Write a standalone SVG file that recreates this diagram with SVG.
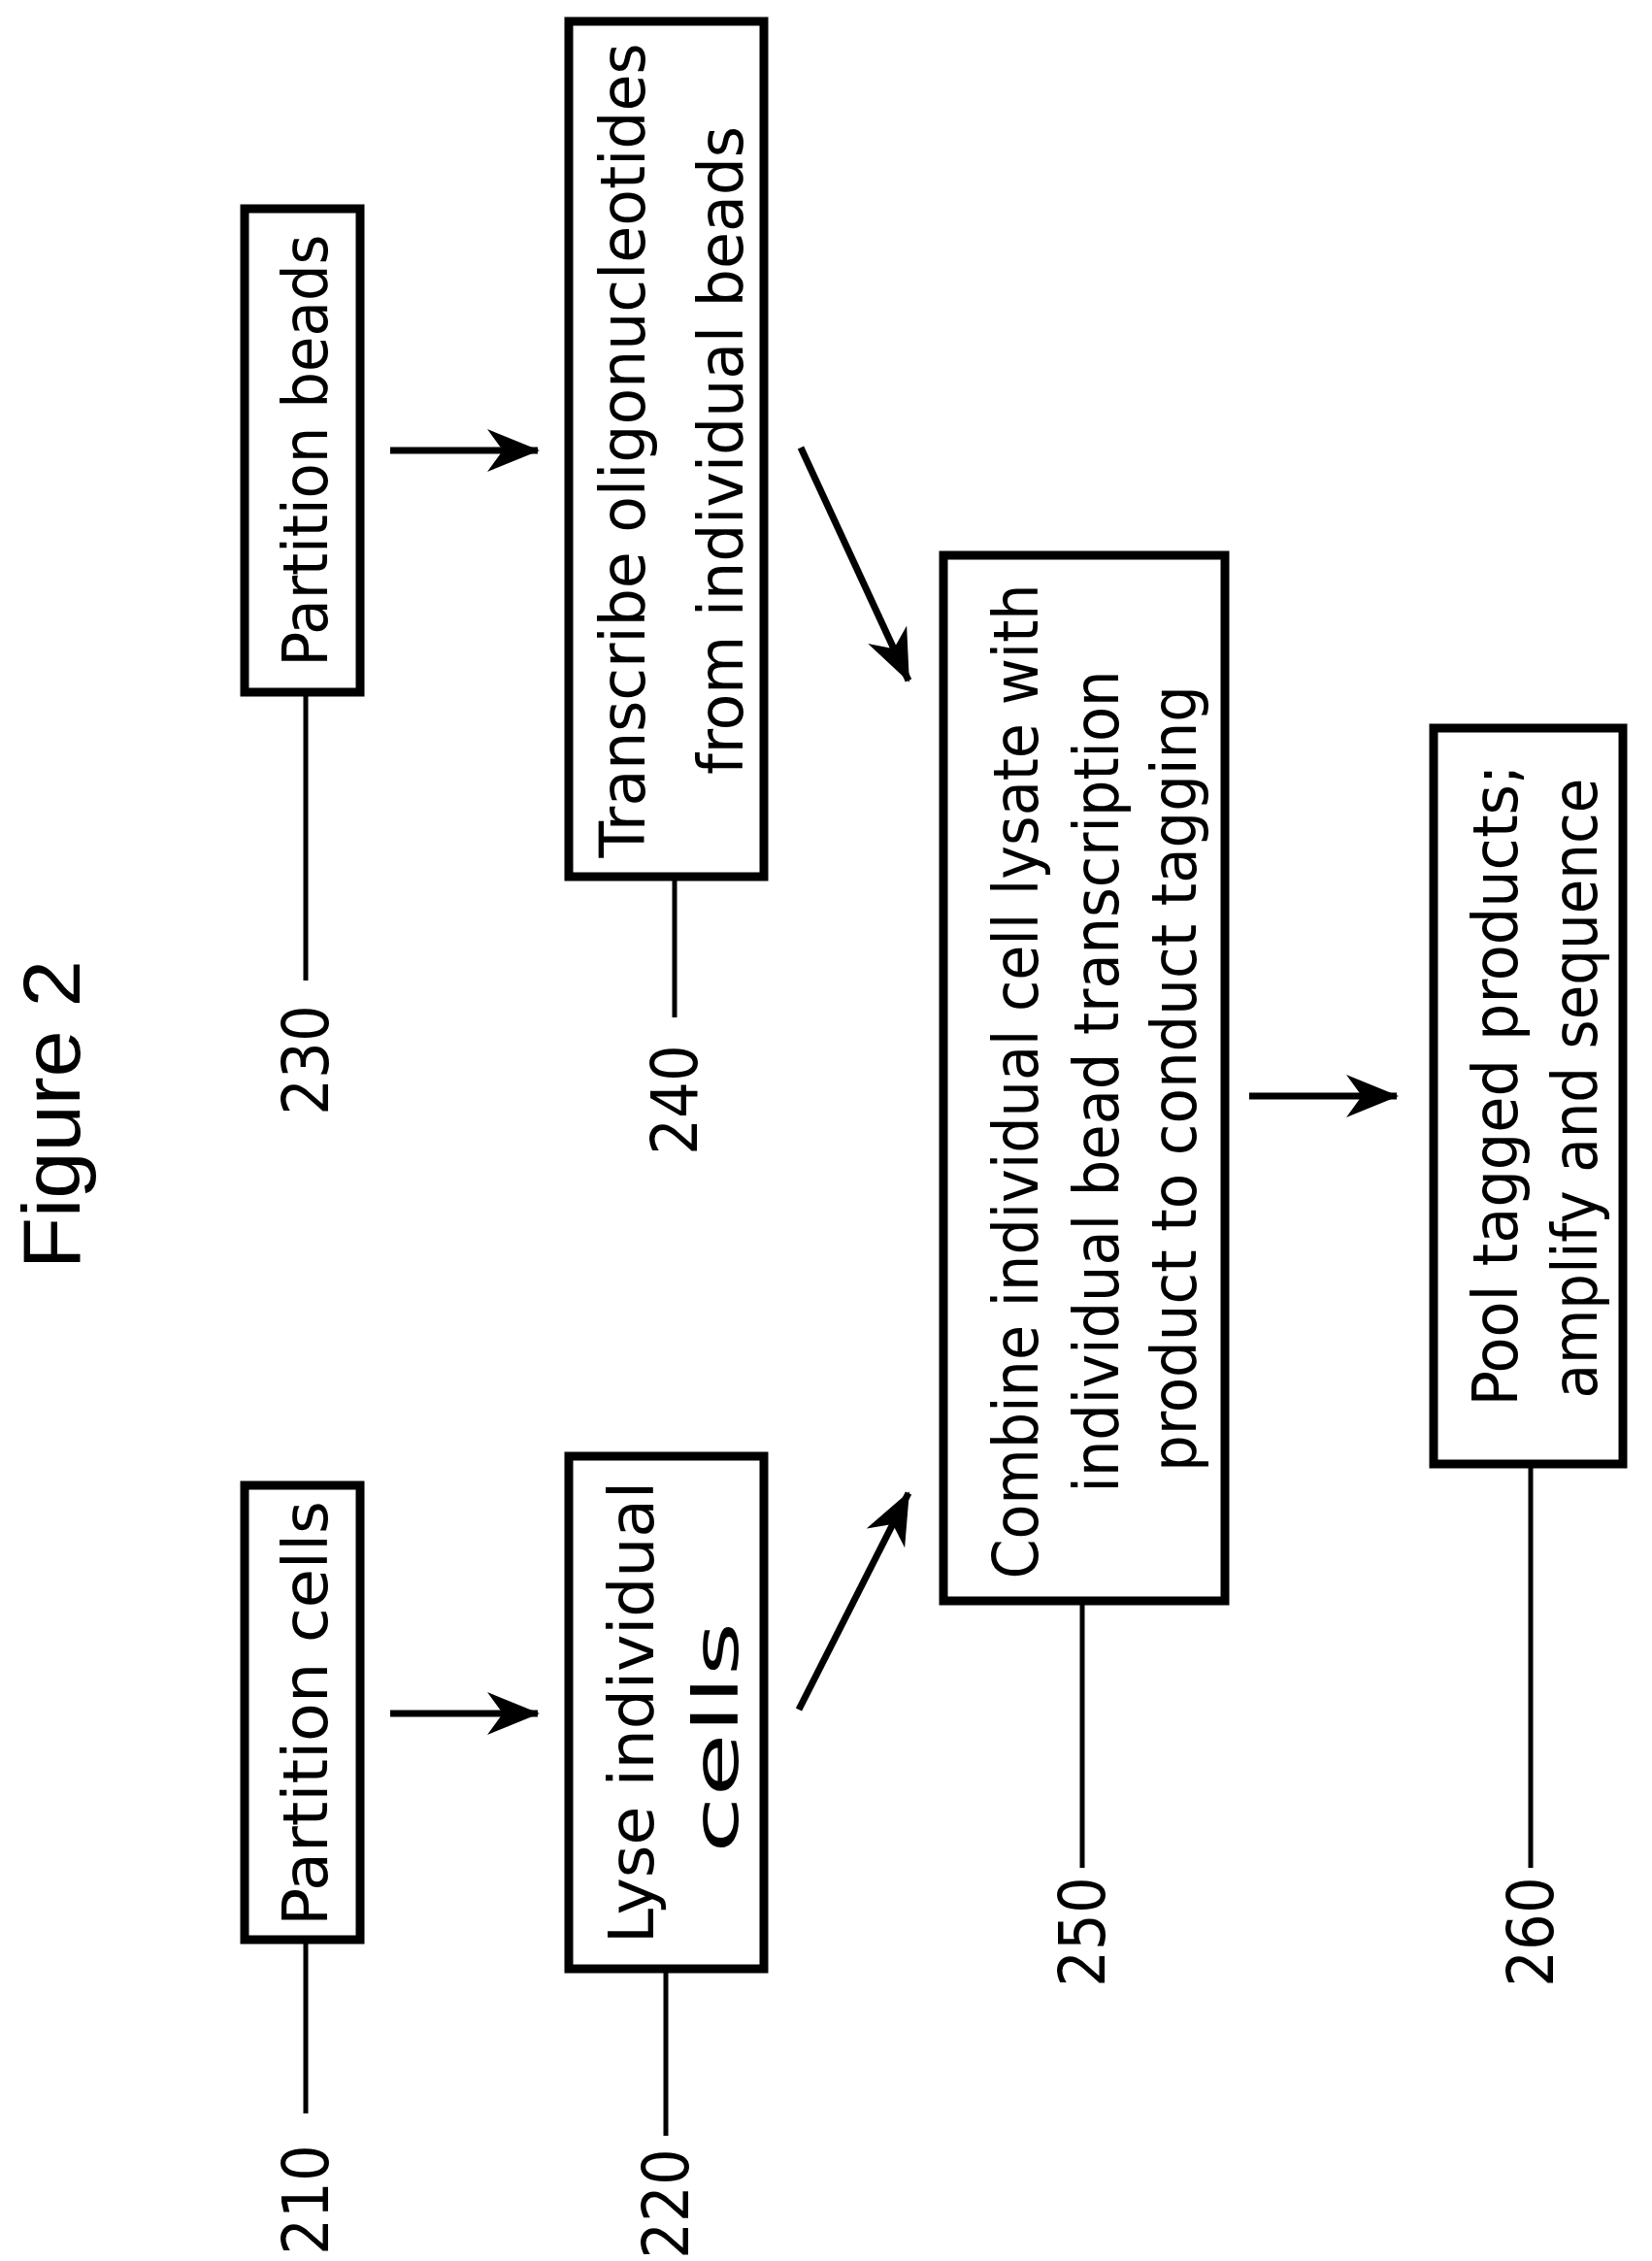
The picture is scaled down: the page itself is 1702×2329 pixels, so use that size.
<svg xmlns="http://www.w3.org/2000/svg" width="1702" height="2329" viewBox="0 0 1702 2329">
<style>
.box{fill:#fff;stroke:#000;stroke-width:9}
.lead{stroke:#000;stroke-width:5;fill:none}
.arr{stroke:#000;stroke-width:7;fill:none;marker-end:url(#ah)}
text{font-family:"DejaVu Sans Condensed","DejaVu Sans",sans-serif;font-size:64px;fill:#000;text-anchor:middle}
.lbl{font-size:66px}
</style>
<defs>
<marker id="ah" markerUnits="userSpaceOnUse" markerWidth="60" markerHeight="50" refX="52" refY="22" orient="auto">
<path d="M0,0 L54,22 L0,44 L16,22 Z" fill="#000"/>
</marker>
</defs>
<rect width="1702" height="2329" fill="#fff"/>
<text transform="translate(82,1148) rotate(-90)" style="font-family:'Liberation Sans',sans-serif;font-size:84px" textLength="318" lengthAdjust="spacingAndGlyphs">Figure  2</text>
<g id="connectors">
<line class="arr" x1="402" y1="464" x2="554" y2="464"/>
<line class="arr" x1="402" y1="1765" x2="554" y2="1765"/>
<line class="arr" x1="825" y1="461" x2="936" y2="701"/>
<line class="arr" x1="823" y1="1761" x2="936" y2="1538"/>
<line class="arr" x1="1287" y1="1129" x2="1439" y2="1129"/>
</g>
<g id="n230">
<rect class="box" x="252" y="215" width="119" height="498"/>
<text transform="translate(337,464) rotate(-90)" textLength="445" lengthAdjust="spacingAndGlyphs">Partition beads</text>
<line class="lead" x1="315" y1="713" x2="315" y2="1010"/>
<text class="lbl" transform="translate(338,1092) rotate(-90)">230</text>
</g>
<g id="n240">
<rect class="box" x="586" y="22" width="201" height="881"/>
<text transform="translate(664,464) rotate(-90)" textLength="839" lengthAdjust="spacingAndGlyphs">Transcribe oligonucleotides</text>
<text transform="translate(765,464) rotate(-90)" textLength="668" lengthAdjust="spacingAndGlyphs">from individual beads</text>
<line class="lead" x1="695" y1="903" x2="695" y2="1048"/>
<text class="lbl" transform="translate(718,1133) rotate(-90)">240</text>
</g>
<g id="n210">
<rect class="box" x="252" y="1530" width="119" height="468"/>
<text transform="translate(337,1765) rotate(-90)" textLength="438" lengthAdjust="spacingAndGlyphs">Partition cells</text>
<line class="lead" x1="315" y1="1998" x2="315" y2="2177"/>
<text class="lbl" transform="translate(338,2266) rotate(-90)">210</text>
</g>
<g id="n220">
<rect class="box" x="586" y="1500" width="201" height="528"/>
<text transform="translate(673,1764) rotate(-90)" textLength="476" lengthAdjust="spacingAndGlyphs">Lyse individual</text>
<text transform="translate(760,1790) rotate(-90)" textLength="238" lengthAdjust="spacingAndGlyphs">cells</text>
<line class="lead" x1="686" y1="2028" x2="686" y2="2200"/>
<text class="lbl" transform="translate(709,2270) rotate(-90)">220</text>
</g>
<g id="n250">
<rect class="box" x="972" y="572" width="290" height="1077"/>
<text transform="translate(1069,1114) rotate(-90)" textLength="1025" lengthAdjust="spacingAndGlyphs">Combine individual cell lysate with</text>
<text transform="translate(1152,1114) rotate(-90)" textLength="847" lengthAdjust="spacingAndGlyphs">individual bead transcription</text>
<text transform="translate(1232,1111) rotate(-90)" textLength="810" lengthAdjust="spacingAndGlyphs">product to conduct tagging</text>
<line class="lead" x1="1115" y1="1649" x2="1115" y2="1924"/>
<text class="lbl" transform="translate(1138,1990) rotate(-90)">250</text>
</g>
<g id="n260">
<rect class="box" x="1477" y="750" width="195" height="758"/>
<text transform="translate(1563,1118) rotate(-90)" textLength="661" lengthAdjust="spacingAndGlyphs">Pool tagged products;</text>
<text transform="translate(1645,1121) rotate(-90)" textLength="639" lengthAdjust="spacingAndGlyphs">amplify and sequence</text>
<line class="lead" x1="1577" y1="1508" x2="1577" y2="1924"/>
<text class="lbl" transform="translate(1600,1990) rotate(-90)">260</text>
</g>
</svg>
